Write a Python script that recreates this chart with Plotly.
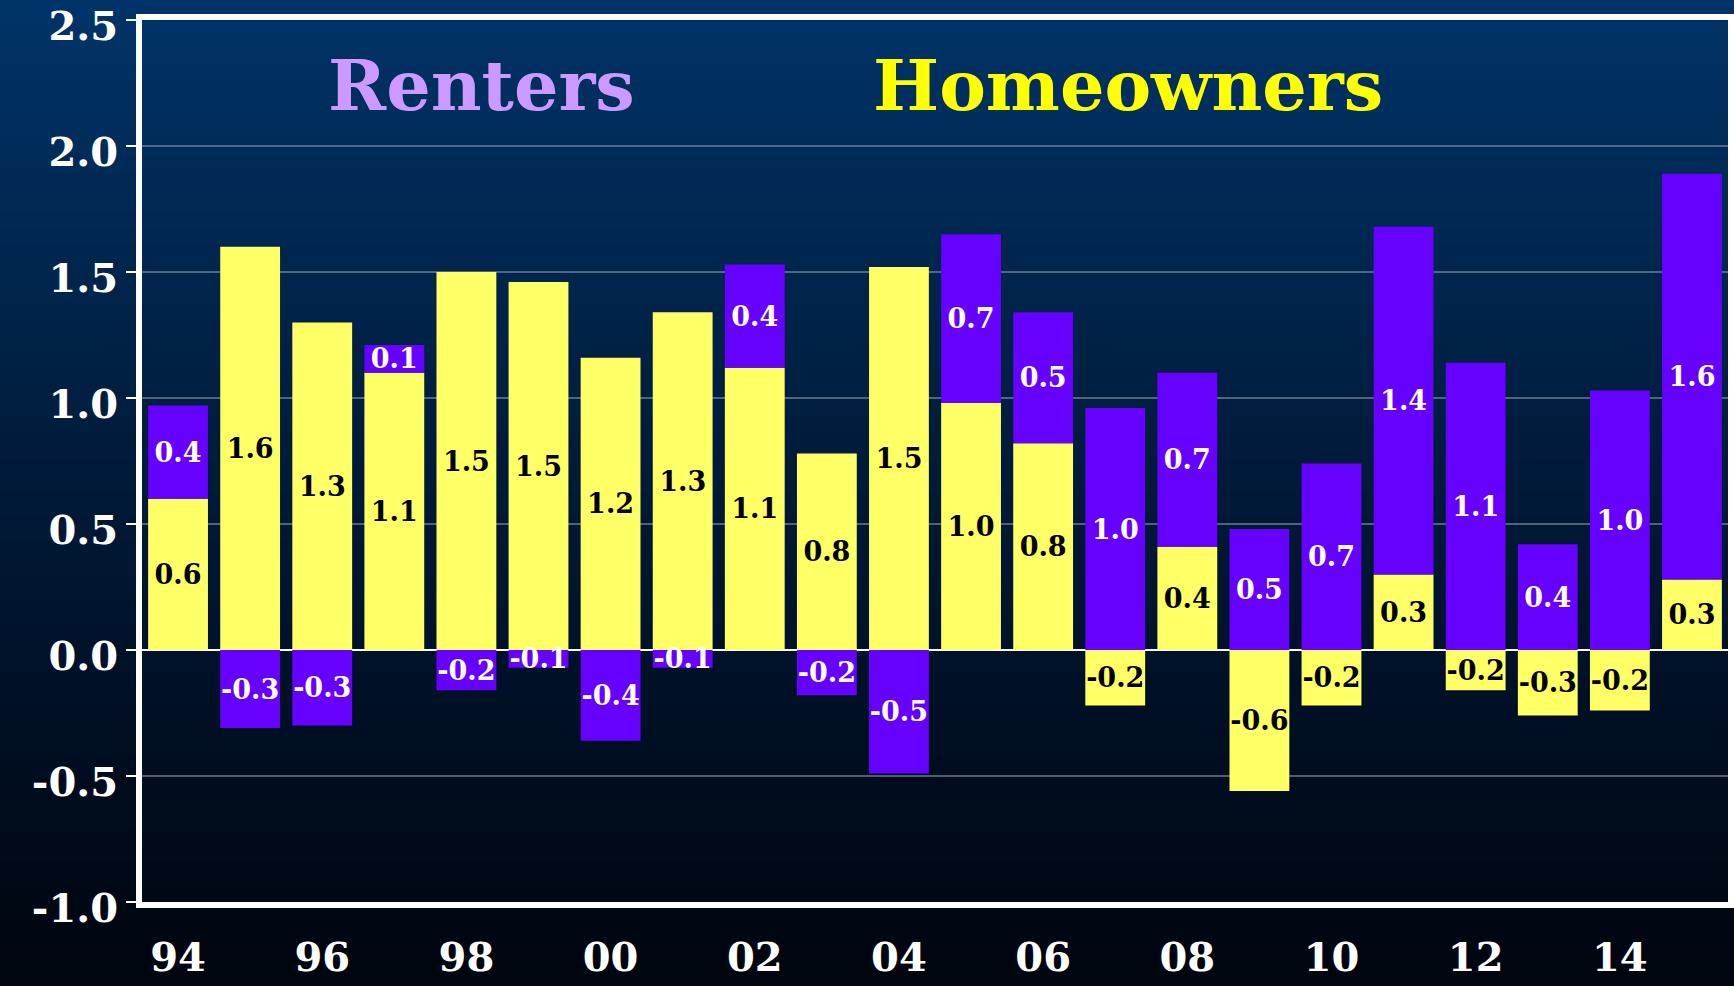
import plotly.graph_objects as go

years = ['94', '95', '96', '97', '98', '99', '00', '01', '02', '03', '04',
         '05', '06', '07', '08', '09', '10', '11', '12', '13', '14', '15']
homeowners = [0.60, 1.60, 1.30, 1.10, 1.50, 1.46, 1.16, 1.34, 1.12, 0.78, 1.52,
              0.98, 0.82, -0.22, 0.41, -0.56, -0.22, 0.30, -0.16, -0.26, -0.24, 0.28]
renters = [0.37, -0.31, -0.30, 0.11, -0.16, -0.07, -0.36, -0.07, 0.41, -0.18, -0.49,
           0.67, 0.52, 0.96, 0.69, 0.48, 0.74, 1.38, 1.14, 0.42, 1.03, 1.61]
tick_years = ['94', '96', '98', '00', '02', '04', '06', '08', '10', '12', '14']
y_ticks = [-1.0, -0.5, 0.0, 0.5, 1.0, 1.5, 2.0, 2.5]

FONT = "DejaVu Serif"
W, H = 1734, 986
ML, MR, MT, MB = 142, 6, 20, 84
PW, PH = W - ML - MR, H - MT - MB

fig = go.Figure()
fig.add_trace(go.Bar(
    x=years, y=homeowners, name='Homeowners',
    marker=dict(color='#ffff66', line=dict(width=0)),
    text=[f"{v:.1f}" for v in homeowners],
    textposition='inside', insidetextanchor='middle', textangle=0,
    constraintext='none',
    textfont=dict(family=FONT, size=27, color='black', weight='bold'),
))
fig.add_trace(go.Bar(
    x=years, y=renters, name='Renters',
    marker=dict(color='#6600ff', line=dict(width=0)),
    text=[f"{v:.1f}" for v in renters],
    textposition='inside', insidetextanchor='middle', textangle=0,
    constraintext='none',
    textfont=dict(family=FONT, size=27, color='white', weight='bold'),
))

# background gradient (paper coords extending over the whole canvas)
y_top = 1 + MT / PH
y_bot = -MB / PH
x_left = -ML / PW
x_right = 1 + MR / PW
stops = [(0.0, (0, 52, 104)), (0.45, (0, 28, 60)), (0.75, (0, 14, 34)), (1.0, (0, 5, 14))]
def col(t):
    for (t0, c0), (t1, c1) in zip(stops[:-1], stops[1:]):
        if t <= t1:
            f = (t - t0) / (t1 - t0)
            return tuple(round(a + (b - a) * f) for a, b in zip(c0, c1))
    return stops[-1][1]
N = 120
shapes = []
for i in range(N):
    t = (i + 0.5) / N
    y1 = y_top - (y_top - y_bot) * i / N + (0.02 if i == 0 else 0.001)
    y0 = y_top - (y_top - y_bot) * (i + 1) / N - (0.02 if i == N - 1 else 0.002)
    r, g, b = col(t)
    shapes.append(dict(type='rect', xref='paper', yref='paper',
                       x0=x_left - 0.01, x1=x_right + 0.01, y0=y0, y1=y1,
                       fillcolor=f'rgb({r},{g},{b})', line=dict(width=0),
                       layer='below'))

def px_x(x):
    return (x - ML) / PW

def px_y(y):
    return 1 - (y - MT) / PH

fig.update_layout(
    width=W, height=H,
    barmode='relative', bargap=0.17,
    showlegend=False,
    margin=dict(l=ML, r=MR, t=MT, b=MB, autoexpand=False),
    paper_bgcolor='#00050e', plot_bgcolor='rgba(0,0,0,0)',
    shapes=shapes,
    font=dict(family=FONT, color='white'),
    annotations=[
        dict(text='<b>Renters</b>', x=px_x(481), y=px_y(86), xref='paper', yref='paper',
             xanchor='center', yanchor='middle', showarrow=False,
             font=dict(family=FONT, size=70, color='#cc99ff')),
        dict(text='<b>Homeowners</b>', x=px_x(1128), y=px_y(86), xref='paper', yref='paper',
             xanchor='center', yanchor='middle', showarrow=False,
             font=dict(family=FONT, size=70, color='#ffff00')),
    ],
)

fig.update_xaxes(
    type='category', categoryorder='array', categoryarray=years,
    tickmode='array', tickvals=tick_years, ticktext=tick_years,
    tickfont=dict(family=FONT, size=40, color='white', weight='bold'),
    showline=True, linecolor='white', linewidth=6, mirror=True,
    ticks='', showgrid=False, ticklabelstandoff=15, automargin=False,
    ticklabeloverflow='allow',
)
fig.update_yaxes(
    range=[-1.0, 2.5], tickmode='array', tickvals=y_ticks,
    ticktext=[f"{v:.1f}" for v in y_ticks],
    tickfont=dict(family=FONT, size=40, color='white', weight='bold'),
    showline=True, linecolor='white', linewidth=6, mirror=True,
    ticks='outside', ticklen=10, tickwidth=2, tickcolor='white',
    showgrid=True, gridcolor='rgba(140,160,180,0.55)', gridwidth=1.5,
    zeroline=True, zerolinecolor='white', zerolinewidth=2,
    automargin=False, ticklabeloverflow='allow', ticklabelshift=6,
)

fig.write_html(
    "out.html",
    config={'displayModeBar': False},
    post_script="document.body.style.margin='0';document.body.style.overflow='hidden';"
                "document.body.style.background='#00050e';",
)
